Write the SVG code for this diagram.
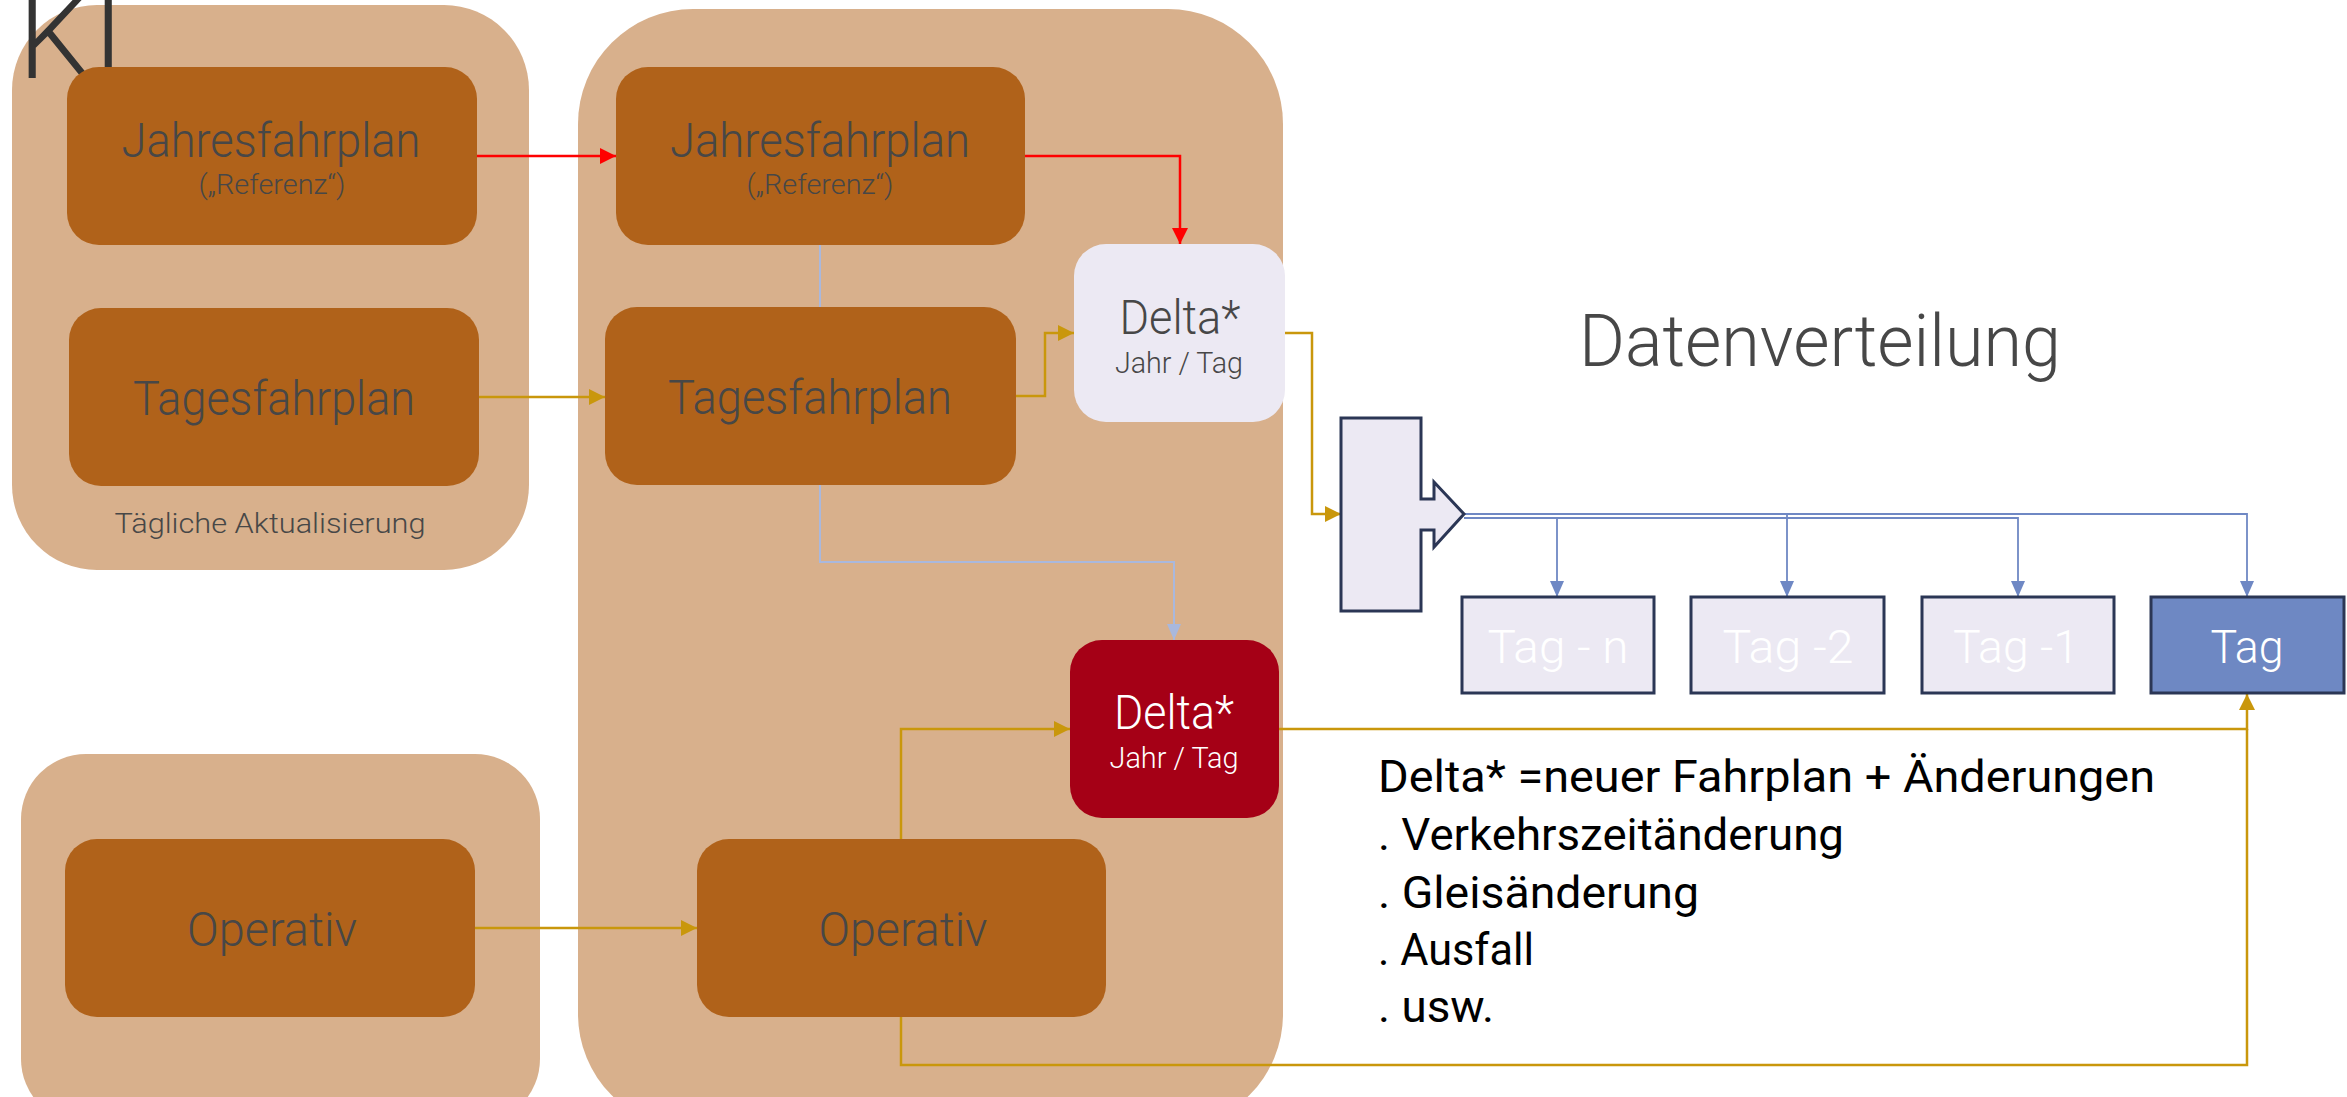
<svg xmlns="http://www.w3.org/2000/svg" width="2347" height="1097" viewBox="0 0 2347 1097">
<style>
.cont{fill:#D8B08C}
.box{fill:#B0621A}
.bt{font-family:Roboto,"Liberation Sans",sans-serif;font-weight:300;fill:#474747;text-anchor:middle}
.wt{font-family:Roboto,"Liberation Sans",sans-serif;font-weight:300;fill:#FFFFFF;text-anchor:middle}
.tag{fill:#ECE9F3;stroke:#2B3655;stroke-width:3}
.txt{font-family:Roboto,"Liberation Sans",sans-serif;fill:#000000}
.red{fill:none;stroke:#FF0000;stroke-width:2.5}
.gold{fill:none;stroke:#C9970C;stroke-width:2.5}
.lb{fill:none;stroke:#A9B8DD;stroke-width:2}
.bl{fill:none;stroke:#6F88C4;stroke-width:1.8}
</style>
<defs>
<marker id="arR" markerWidth="16" markerHeight="16" refX="16" refY="8" orient="auto" markerUnits="userSpaceOnUse"><path d="M0,0 L16,8 L0,16 Z" fill="#FF0000"/></marker>
<marker id="arG" markerWidth="16" markerHeight="16" refX="16" refY="8" orient="auto" markerUnits="userSpaceOnUse"><path d="M0,0 L16,8 L0,16 Z" fill="#C9970C"/></marker>
<marker id="arLB" markerWidth="16" markerHeight="14" refX="16" refY="7" orient="auto" markerUnits="userSpaceOnUse"><path d="M0,0 L16,7 L0,14 Z" fill="#A9B8DD"/></marker>
<marker id="arB" markerWidth="16" markerHeight="14" refX="16" refY="7" orient="auto" markerUnits="userSpaceOnUse"><path d="M0,0 L16,7 L0,14 Z" fill="#6F88C4"/></marker>
</defs>
<rect width="2347" height="1097" fill="#FFFFFF"/>
<g id="containers">
<rect id="cont-a" class="cont" x="12" y="5" width="517" height="565" rx="85" ry="85"/>
<rect id="cont-b" class="cont" x="578" y="9" width="705" height="1120" rx="115" ry="115"/>
<rect id="cont-c" class="cont" x="21" y="754" width="519" height="370" rx="65" ry="65"/>
</g>
<text id="title-ki" x="18" y="78" font-family="Roboto,'Liberation Sans',sans-serif" font-weight="300" font-size="118" fill="#333333">KI</text>
<text x="270" y="533" class="bt" font-size="28" textLength="311" lengthAdjust="spacingAndGlyphs">Tägliche Aktualisierung</text>
<g id="connectors">
<path class="red" d="M477,156 H616" marker-end="url(#arR)"/>
<path class="red" d="M1025,156 H1180 V244" marker-end="url(#arR)"/>
<path class="gold" d="M479,397 H605" marker-end="url(#arG)"/>
<path class="gold" d="M1016,396 H1045 V333 H1074" marker-end="url(#arG)"/>
<path class="lb" d="M820,245 V562 H1174 V640" marker-end="url(#arLB)"/>
<path class="gold" d="M1285,333 H1312 V514 H1341" marker-end="url(#arG)"/>
<path class="bl" d="M1464,518 H1557 V597" marker-end="url(#arB)"/>
<path class="bl" d="M1464,514 H1787 V597" marker-end="url(#arB)"/>
<path class="bl" d="M1464,518 H2018 V597" marker-end="url(#arB)"/>
<path class="bl" d="M1464,514 H2247 V597" marker-end="url(#arB)"/>
<path class="gold" d="M1279,729 H2247 V694" marker-end="url(#arG)"/>
<path class="gold" d="M901,1017 V1065 H2247 V729"/>
<path class="gold" d="M901,839 V729 H1070" marker-end="url(#arG)"/>
<path class="gold" d="M475,928 H697" marker-end="url(#arG)"/>
</g>
<g id="jahr1">
<rect class="box" x="67" y="67" width="410" height="178" rx="32"/>
<text x="271" y="157" class="bt" font-size="48" textLength="299" lengthAdjust="spacingAndGlyphs">Jahresfahrplan</text>
<text x="272" y="194" class="bt" font-size="27" textLength="147" lengthAdjust="spacingAndGlyphs">(„Referenz“)</text>
</g>
<g id="tages1">
<rect class="box" x="69" y="308" width="410" height="178" rx="32"/>
<text x="274" y="415" class="bt" font-size="48" textLength="282" lengthAdjust="spacingAndGlyphs">Tagesfahrplan</text>
</g>
<g id="operativ1">
<rect class="box" x="65" y="839" width="410" height="178" rx="32"/>
<text x="272" y="946" class="bt" font-size="48" textLength="170" lengthAdjust="spacingAndGlyphs">Operativ</text>
</g>
<g id="jahr2">
<rect class="box" x="616" y="67" width="409" height="178" rx="32"/>
<text x="820" y="157" class="bt" font-size="48" textLength="300" lengthAdjust="spacingAndGlyphs">Jahresfahrplan</text>
<text x="820" y="194" class="bt" font-size="27" textLength="147" lengthAdjust="spacingAndGlyphs">(„Referenz“)</text>
</g>
<g id="tages2">
<rect class="box" x="605" y="307" width="411" height="178" rx="32"/>
<text x="810" y="414" class="bt" font-size="48" textLength="284" lengthAdjust="spacingAndGlyphs">Tagesfahrplan</text>
</g>
<g id="operativ2">
<rect class="box" x="697" y="839" width="409" height="178" rx="32"/>
<text x="903" y="946" class="bt" font-size="48" textLength="169" lengthAdjust="spacingAndGlyphs">Operativ</text>
</g>
<g id="delta1">
<rect x="1074" y="244" width="211" height="178" rx="32" fill="#ECE9F3"/>
<text x="1180" y="334" class="bt" font-size="48" textLength="121" lengthAdjust="spacingAndGlyphs">Delta*</text>
<text x="1179" y="373" class="bt" font-size="29" textLength="128" lengthAdjust="spacingAndGlyphs">Jahr / Tag</text>
</g>
<g id="delta2">
<rect x="1070" y="640" width="209" height="178" rx="32" fill="#A50016"/>
<text x="1174" y="729" class="wt" font-size="48" textLength="120" lengthAdjust="spacingAndGlyphs">Delta*</text>
<text x="1174" y="768" class="wt" font-size="29" textLength="129" lengthAdjust="spacingAndGlyphs">Jahr / Tag</text>
</g>
<g id="verteiler">
<path d="M1341,418 H1421 V499 H1434 V482 L1464,514 L1434,547 V530 H1421 V611 H1341 Z" fill="#ECE9F3" stroke="#2B3655" stroke-width="3"/>
</g>
<text id="datenverteilung" x="1820" y="366" class="bt" font-size="72" textLength="482" lengthAdjust="spacingAndGlyphs">Datenverteilung</text>
<g id="tag-n">
<rect class="tag" x="1462" y="597" width="192" height="96"/>
<text x="1558" y="663" class="wt" font-size="46" textLength="141" lengthAdjust="spacingAndGlyphs">Tag - n</text>
</g>
<g id="tag-2">
<rect class="tag" x="1691" y="597" width="193" height="96"/>
<text x="1788" y="663" class="wt" font-size="46" textLength="131" lengthAdjust="spacingAndGlyphs">Tag -2</text>
</g>
<g id="tag-1">
<rect class="tag" x="1922" y="597" width="192" height="96"/>
<text x="2016" y="663" class="wt" font-size="46" textLength="126" lengthAdjust="spacingAndGlyphs">Tag -1</text>
</g>
<g id="tag">
<rect class="tag" x="2151" y="597" width="193" height="96" style="fill:#6E88C3"/>
<text x="2247" y="663" class="wt" font-size="46" textLength="73" lengthAdjust="spacingAndGlyphs">Tag</text>
</g>
<g id="legende" class="txt" font-size="44">
<text x="1378" y="792" textLength="777" lengthAdjust="spacingAndGlyphs">Delta* =neuer Fahrplan + Änderungen</text>
<text x="1378" y="850" textLength="466" lengthAdjust="spacingAndGlyphs">. Verkehrszeitänderung</text>
<text x="1378" y="908" textLength="321" lengthAdjust="spacingAndGlyphs">. Gleisänderung</text>
<text x="1378" y="965" textLength="156" lengthAdjust="spacingAndGlyphs">. Ausfall</text>
<text x="1378" y="1022" textLength="116" lengthAdjust="spacingAndGlyphs">. usw.</text>
</g>
</svg>
